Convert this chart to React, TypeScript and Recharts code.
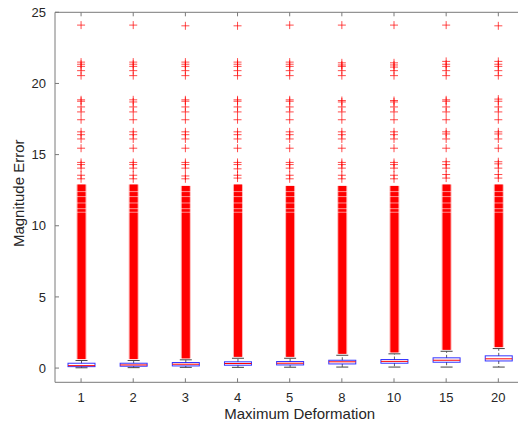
import React from 'react';
import { ComposedChart, Bar, Scatter, XAxis, YAxis } from 'recharts';

// Deformation levels on the x axis
const categories = ['1', '2', '3', '4', '5', '8', '10', '15', '20'];

// Box statistics per deformation level
const whiskerLow = [0.02, 0.03, 0.05, 0.05, 0.06, 0.07, 0.07, 0.07, 0.07];
const q1 = [0.10, 0.13, 0.15, 0.20, 0.22, 0.29, 0.34, 0.41, 0.50];
const median = [0.17, 0.22, 0.27, 0.32, 0.34, 0.44, 0.47, 0.55, 0.65];
const q3 = [0.34, 0.34, 0.39, 0.44, 0.46, 0.55, 0.60, 0.72, 0.86];
const whiskerHigh = [0.53, 0.53, 0.58, 0.69, 0.69, 0.90, 1.00, 1.18, 1.37];

// Upper edge of the densely packed outlier run above each whisker
const denseTop = [12.9, 12.9, 12.8, 12.9, 12.8, 12.8, 12.8, 12.9, 12.9];

// Levels inside the dense run where the outliers thin out
const thinLevels = [10.95, 11.2, 11.6, 12.05, 12.4];

// Isolated outliers above the dense run
const outliers1 = [13.3, 13.55, 14.05, 14.3, 14.45, 15.45, 16.1, 16.4, 16.6, 17.45, 18.0, 18.35, 18.75, 18.85, 20.55, 20.9, 21.2, 21.35, 21.5, 24.1];
const outliers2 = [13.3, 13.55, 14.05, 14.3, 14.45, 15.45, 16.1, 16.4, 16.6, 17.45, 18.0, 18.35, 18.7, 18.85, 20.55, 20.9, 21.2, 21.35, 21.5, 24.1];
const outliers3 = [13.3, 13.5, 14.05, 14.3, 14.45, 15.45, 16.1, 16.4, 16.6, 17.45, 18.0, 18.35, 18.75, 18.85, 20.55, 20.9, 21.2, 21.35, 21.5, 24.05];
const outliers4 = [13.35, 13.55, 14.0, 14.3, 14.45, 15.45, 16.1, 16.4, 16.6, 17.45, 18.0, 18.35, 18.75, 18.85, 20.55, 20.9, 21.2, 21.35, 21.5, 24.05];
const outliers5 = [13.3, 13.55, 14.05, 14.3, 14.45, 15.45, 16.1, 16.4, 16.6, 17.45, 18.0, 18.35, 18.75, 18.85, 20.55, 20.9, 21.2, 21.35, 21.5, 24.1];
const outliers8 = [13.3, 13.55, 14.05, 14.3, 14.45, 15.45, 16.1, 16.4, 16.6, 17.45, 18.0, 18.35, 18.7, 18.8, 20.55, 20.9, 21.2, 21.3, 21.45, 24.1];
const outliers10 = [13.3, 13.55, 14.05, 14.3, 14.45, 15.45, 16.1, 16.4, 16.6, 17.45, 18.0, 18.35, 18.7, 18.8, 20.55, 20.9, 21.15, 21.3, 21.45, 24.1];
const outliers15 = [13.35, 13.6, 14.05, 14.3, 14.5, 15.45, 16.1, 16.45, 16.6, 17.45, 18.0, 18.35, 18.75, 18.85, 20.55, 20.9, 21.2, 21.35, 21.55, 24.1];
const outliers20 = [13.35, 13.6, 14.05, 14.35, 14.5, 15.45, 16.1, 16.45, 16.6, 17.45, 18.0, 18.35, 18.75, 18.9, 20.55, 20.9, 21.2, 21.35, 21.55, 24.05];

const outlierSets = [outliers1, outliers2, outliers3, outliers4, outliers5, outliers8, outliers10, outliers15, outliers20];

const yTicks = [0, 5, 10, 15, 20, 25];

const rows = categories.map((name, i) => ({
  name,
  wLo: whiskerLow[i],
  q1: q1[i],
  med: median[i],
  q3: q3[i],
  wHi: whiskerHigh[i],
  top: denseTop[i],
  span: [whiskerLow[i], denseTop[i]],
}));

const outlierPoints = categories.flatMap((name, i) =>
  outlierSets[i].map((v) => ({ name, v }))
);

const FONT = '"Liberation Sans", Arial, Helvetica, sans-serif';
const AXIS = '#7a7a7a';
const TEXT = '#262626';

// Draws the whiskers, box, median and the dense outlier run for one group.
const BoxShape = (props: any) => {
  const { x, y, width, height, payload } = props;
  const lo = payload.wLo;
  const hi = payload.top;
  const yLo = y + height;
  const yHi = y;
  const py = (v: number) => yLo + ((v - lo) / (hi - lo)) * (yHi - yLo);
  const cx = x + width / 2;
  const capHalf = 6;
  const bandHalf = 4;
  return (
    <g>
      {/* dense run of outliers */}
      <rect x={cx - bandHalf - 1} y={py(hi)} width={bandHalf * 2 + 2} height={py(payload.wHi + 0.1) - py(hi)} fill="#ff0000" fillOpacity={0.3} />
      <rect x={cx - bandHalf} y={py(hi)} width={bandHalf * 2} height={py(payload.wHi + 0.1) - py(hi)} fill="#ff0000" />
      {thinLevels.map((v) => (
        <line key={v} x1={cx - bandHalf - 1} x2={cx + bandHalf + 1} y1={py(v)} y2={py(v)} stroke="#ffffff" strokeOpacity={0.55} strokeWidth={1} />
      ))}
      {/* whiskers */}
      <line x1={cx} x2={cx} y1={py(payload.q3)} y2={py(payload.wHi)} stroke="#333" strokeWidth={0.8} strokeDasharray="3 2" />
      <line x1={cx} x2={cx} y1={py(payload.q1)} y2={py(payload.wLo)} stroke="#333" strokeWidth={0.8} strokeDasharray="3 2" />
      <line x1={cx - capHalf} x2={cx + capHalf} y1={py(payload.wHi)} y2={py(payload.wHi)} stroke="#444" strokeWidth={1} />
      <line x1={cx - capHalf} x2={cx + capHalf} y1={py(payload.wLo)} y2={py(payload.wLo)} stroke="#444" strokeWidth={1} />
      {/* box */}
      <rect x={x} y={py(payload.q3)} width={width} height={py(payload.q1) - py(payload.q3)} fill="none" stroke="#0000ff" strokeWidth={1} strokeOpacity={0.8} />
      {/* median */}
      <line x1={x} x2={x + width} y1={py(payload.med)} y2={py(payload.med)} stroke="#ff0000" strokeWidth={1} />
    </g>
  );
};

const PlusShape = (props: any) => {
  const { cx, cy } = props;
  const r = 4;
  return (
    <g stroke="#ff0000" strokeWidth={1} strokeOpacity={0.7}>
      <line x1={cx - r} x2={cx + r} y1={cy} y2={cy} />
      <line x1={cx} x2={cx} y1={cy - r} y2={cy + r} />
    </g>
  );
};

const YLabel = (props: any) => {
  const vb = props.viewBox || {};
  const cy = vb.y + vb.height / 2 - 4;
  return (
    <text
      x={24}
      y={cy}
      transform={`rotate(-90, 24, ${cy})`}
      textAnchor="middle"
      fontFamily={FONT}
      fontSize={15}
      fill={TEXT}
    >
      Magnitude Error
    </text>
  );
};

const XLabel = (props: any) => {
  const vb = props.viewBox || {};
  return (
    <text x={vb.x + vb.width / 2 + 10} y={419} textAnchor="middle" fontFamily={FONT} fontSize={15} fill={TEXT}>
      Maximum Deformation
    </text>
  );
};

export default function App() {
  return (
    <div style={{ position: 'absolute', left: 0, top: 0, width: 518, height: 433, overflow: 'hidden', background: '#fff' }}>
      <ComposedChart
        width={530}
        height={433}
        data={rows}
        margin={{ top: 0, right: 5.6, bottom: 0, left: 0 }}
      >
        <XAxis
          dataKey="name"
          type="category"
          allowDuplicatedCategory={false}
          height={50.7}
          stroke={AXIS}
          tickSize={-4}
          tickMargin={14}
          tick={{ fill: TEXT, fontSize: 13, fontFamily: FONT }}
          interval={0}
          label={XLabel}
        />
        <XAxis
          xAxisId="top"
          dataKey="name"
          type="category"
          allowDuplicatedCategory={false}
          orientation="top"
          height={12.3}
          stroke={AXIS}
          tickSize={-4}
          tick={() => <g />}
          interval={0}
        />
        <YAxis
          type="number"
          domain={[-1, 25]}
          ticks={yTicks}
          width={55}
          stroke={AXIS}
          tickSize={-4}
          tickMargin={13}
          tick={{ fill: TEXT, fontSize: 13, fontFamily: FONT }}
          label={YLabel}
          allowDataOverflow
        />
        <Bar dataKey="span" barSize={27} shape={BoxShape} isAnimationActive={false} />
        <Scatter data={outlierPoints} dataKey="v" shape={PlusShape} isAnimationActive={false} />
      </ComposedChart>
    </div>
  );
}
